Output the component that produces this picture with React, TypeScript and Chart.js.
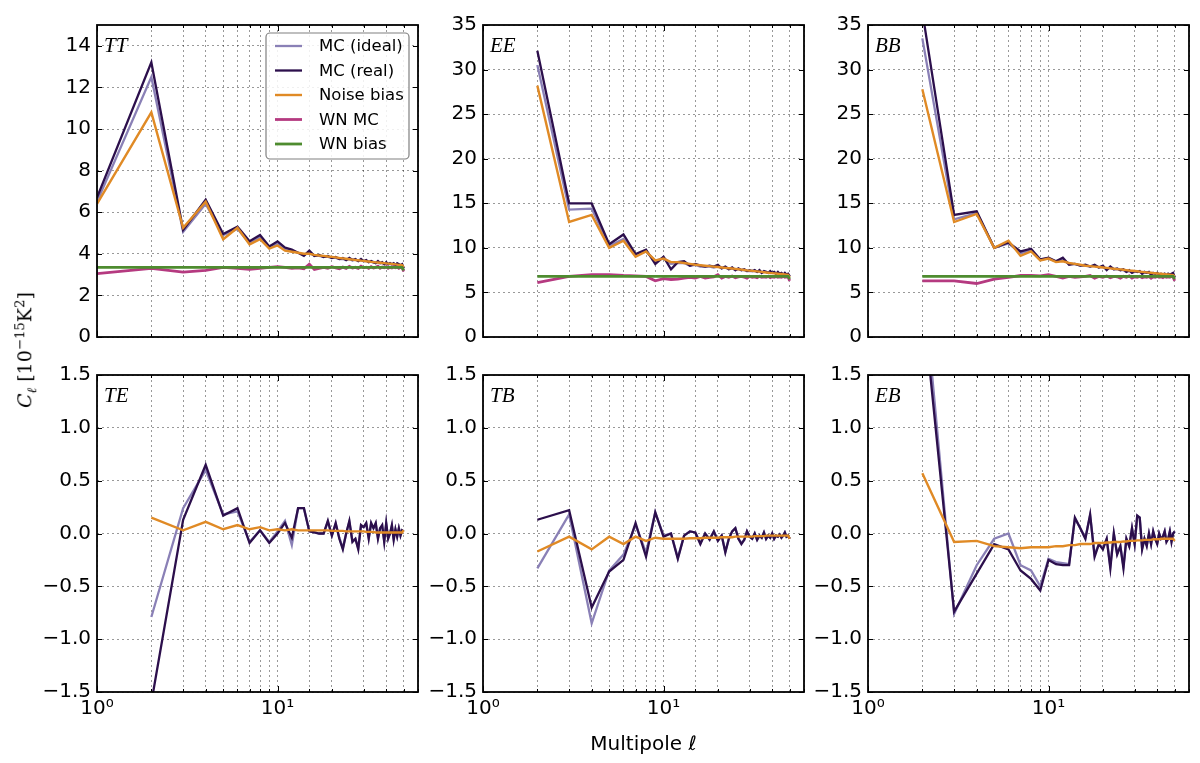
import { useEffect, useRef } from "react";
import { Chart, registerables } from "chart.js";

Chart.register(...registerables);
Chart.defaults.font.family = '"DejaVu Sans", sans-serif';
Chart.defaults.color = "#000";

// multipoles
const ells = [
  1, 2, 3, 4, 5, 6, 7, 8, 9, 10,
  11, 12, 13, 14, 15, 16, 17, 18, 19, 20,
  21, 22, 23, 24, 25, 26, 27, 28, 29, 30,
  31, 32, 33, 34, 35, 36, 37, 38, 39, 40,
  41, 42, 43, 44, 45, 46, 47, 48, 49, 50,
];

const seriesNames = ["MC (ideal)", "MC (real)", "Noise bias", "WN MC", "WN bias"];

// TT
const ttIdeal = [
  6.5, 12.5, 5.05, 6.4, 4.9, 5.2, 4.5, 4.8, 4.3, 4.5,
  4.25, 4.15, 4.05, 3.95, 4.05, 3.9, 3.9, 3.85, 3.85, 3.8,
  3.8, 3.75, 3.75, 3.72, 3.75, 3.68, 3.72, 3.65, 3.7, 3.64,
  3.66, 3.6, 3.62, 3.58, 3.56, 3.6, 3.55, 3.56, 3.5, 3.55,
  3.5, 3.52, 3.48, 3.5, 3.45, 3.5, 3.47, 3.44, 3.46, 3.3,
];
const ttReal = [
  6.7, 13.2, 5.15, 6.6, 4.95, 5.3, 4.6, 4.9, 4.35, 4.6,
  4.3, 4.2, 4.05, 3.9, 4.15, 3.9, 3.95, 3.85, 3.9, 3.8,
  3.85, 3.75, 3.8, 3.7, 3.8, 3.7, 3.75, 3.65, 3.75, 3.65,
  3.7, 3.6, 3.65, 3.6, 3.55, 3.65, 3.55, 3.6, 3.5, 3.6,
  3.5, 3.55, 3.5, 3.55, 3.45, 3.55, 3.5, 3.45, 3.5, 3.3,
];
const ttNoise = [
  6.4, 10.8, 5.25, 6.5, 4.7, 5.25, 4.45, 4.7, 4.25, 4.4,
  4.15, 4.1, 4.05, 4.0, 4.0, 3.95, 3.92, 3.9, 3.87, 3.85,
  3.83, 3.8, 3.78, 3.76, 3.74, 3.72, 3.7, 3.69, 3.67, 3.66,
  3.64, 3.63, 3.61, 3.6, 3.59, 3.58, 3.57, 3.56, 3.55, 3.54,
  3.53, 3.52, 3.51, 3.5, 3.49, 3.48, 3.47, 3.46, 3.45, 3.35,
];
const ttWnMc = [
  3.05, 3.3, 3.12, 3.2, 3.35, 3.3, 3.25, 3.3, 3.35, 3.38,
  3.35, 3.3, 3.32, 3.28, 3.5, 3.25, 3.3, 3.35, 3.3, 3.38,
  3.32, 3.28, 3.36, 3.3, 3.4, 3.32, 3.35, 3.3, 3.4, 3.33,
  3.36, 3.3, 3.38, 3.32, 3.35, 3.4, 3.3, 3.36, 3.33, 3.38,
  3.3, 3.35, 3.32, 3.38, 3.33, 3.36, 3.3, 3.35, 3.32, 3.15,
];
const ttWnBias = [
  3.35, 3.35, 3.35, 3.35, 3.35, 3.35, 3.35, 3.35, 3.35, 3.35,
  3.35, 3.35, 3.35, 3.35, 3.35, 3.35, 3.35, 3.35, 3.35, 3.35,
  3.35, 3.35, 3.35, 3.35, 3.35, 3.35, 3.35, 3.35, 3.35, 3.35,
  3.35, 3.35, 3.35, 3.35, 3.35, 3.35, 3.35, 3.35, 3.35, 3.35,
  3.35, 3.35, 3.35, 3.35, 3.35, 3.35, 3.35, 3.35, 3.35, 3.2,
];

// EE
const eeIdeal = [
  null, 30.5, 14.3, 14.4, 10.2, 11.0, 9.2, 9.6, 8.5, 8.9,
  8.2, 8.3, 8.3, 8.0, 8.1, 7.9, 7.9, 7.9, 7.8, 7.9,
  7.7, 7.8, 7.6, 7.7, 7.5, 7.6, 7.5, 7.5, 7.4, 7.4,
  7.4, 7.4, 7.3, 7.4, 7.2, 7.3, 7.3, 7.2, 7.3, 7.2,
  7.2, 7.1, 7.2, 7.1, 7.1, 7.0, 7.1, 7.0, 7.0, 6.8,
];
const eeReal = [
  null, 32.1, 15.0, 15.0, 10.4, 11.5, 9.3, 9.8, 8.2, 9.0,
  7.6, 8.4, 8.5, 8.0, 8.2, 8.0, 7.9, 8.0, 7.9, 8.1,
  7.7, 7.9, 7.6, 7.8, 7.5, 7.7, 7.5, 7.6, 7.4, 7.5,
  7.4, 7.5, 7.3, 7.5, 7.2, 7.4, 7.3, 7.2, 7.4, 7.2,
  7.3, 7.1, 7.3, 7.1, 7.2, 7.0, 7.2, 7.0, 7.1, 6.8,
];
const eeNoise = [
  null, 28.2, 12.9, 13.7, 10.0, 10.8, 9.0, 9.6, 8.6, 8.8,
  8.4, 8.4, 8.3, 8.2, 8.1, 8.05, 8.0, 7.95, 7.9, 7.85,
  7.8, 7.76, 7.72, 7.68, 7.64, 7.6, 7.56, 7.52, 7.48, 7.45,
  7.42, 7.39, 7.36, 7.33, 7.3, 7.27, 7.24, 7.21, 7.18, 7.16,
  7.14, 7.12, 7.1, 7.08, 7.06, 7.04, 7.02, 7.0, 6.98, 6.7,
];
const eeWnMc = [
  null, 6.1, 6.8, 7.0, 7.0, 6.9, 6.85, 6.8, 6.3, 6.55,
  6.45, 6.5, 6.6, 6.7, 6.6, 6.8, 6.6, 6.7, 6.75, 7.0,
  6.6, 6.8, 6.7, 6.85, 6.65, 6.75, 6.8, 6.7, 6.6, 6.8,
  6.7, 6.75, 6.65, 6.8, 6.7, 6.75, 6.7, 6.8, 6.65, 6.75,
  6.7, 6.8, 6.7, 6.75, 6.7, 6.8, 6.7, 6.75, 6.7, 6.3,
];
const eeWnBias = [
  null, 6.8, 6.8, 6.8, 6.8, 6.8, 6.8, 6.8, 6.8, 6.8,
  6.8, 6.8, 6.8, 6.8, 6.8, 6.8, 6.8, 6.8, 6.8, 6.8,
  6.8, 6.8, 6.8, 6.8, 6.8, 6.8, 6.8, 6.8, 6.8, 6.8,
  6.8, 6.8, 6.8, 6.8, 6.8, 6.8, 6.8, 6.8, 6.8, 6.8,
  6.8, 6.8, 6.8, 6.8, 6.8, 6.8, 6.8, 6.8, 6.8, 6.5,
];

// BB
const bbIdeal = [
  null, 33.5, 13.2, 13.9, 10.0, 10.5, 9.4, 9.7, 8.7, 8.8,
  8.5, 8.7, 8.2, 8.2, 8.0, 8.0, 7.9, 8.0, 7.8, 7.9,
  7.6, 7.8, 7.6, 7.6, 7.5, 7.5, 7.3, 7.4, 7.2, 7.3,
  7.3, 7.3, 7.1, 7.2, 7.2, 7.2, 7.0, 7.1, 7.1, 7.1,
  7.0, 7.0, 7.0, 7.0, 6.9, 7.0, 7.0, 7.0, 7.0, 6.7,
];
const bbReal = [
  null, 36.5, 13.7, 14.1, 10.0, 10.6, 9.6, 9.9, 8.7, 8.9,
  8.5, 8.9, 8.1, 8.2, 8.0, 8.1, 7.9, 8.1, 7.8, 8.0,
  7.5, 7.9, 7.6, 7.7, 7.5, 7.6, 7.3, 7.5, 7.2, 7.4,
  7.3, 7.4, 7.1, 7.3, 7.2, 7.3, 7.0, 7.2, 7.1, 7.2,
  7.0, 7.1, 7.0, 7.1, 6.9, 7.1, 7.0, 7.1, 7.2, 6.7,
];
const bbNoise = [
  null, 27.8, 12.9, 13.8, 10.0, 10.8, 9.1, 9.6, 8.6, 8.8,
  8.4, 8.5, 8.3, 8.2, 8.1, 8.0, 7.95, 7.9, 7.85, 7.8,
  7.75, 7.7, 7.66, 7.62, 7.58, 7.54, 7.5, 7.46, 7.43, 7.4,
  7.37, 7.34, 7.31, 7.28, 7.25, 7.22, 7.2, 7.17, 7.15, 7.13,
  7.11, 7.09, 7.07, 7.05, 7.03, 7.01, 6.99, 6.97, 6.95, 6.8,
];
const bbWnMc = [
  null, 6.3, 6.3, 6.0, 6.5, 6.7, 6.9, 6.9, 6.85, 7.0,
  6.8, 6.6, 6.8, 6.7, 6.75, 6.8, 6.9, 6.6, 6.8, 6.7,
  6.85, 6.65, 6.8, 6.75, 6.6, 6.8, 6.7, 6.85, 6.6, 6.75,
  6.7, 6.8, 6.65, 6.75, 6.7, 6.8, 6.6, 6.75, 6.7, 6.8,
  6.7, 6.75, 6.65, 6.8, 6.7, 6.75, 6.7, 6.8, 6.7, 6.3,
];
const bbWnBias = [
  null, 6.8, 6.8, 6.8, 6.8, 6.8, 6.8, 6.8, 6.8, 6.8,
  6.8, 6.8, 6.8, 6.8, 6.8, 6.8, 6.8, 6.8, 6.8, 6.8,
  6.8, 6.8, 6.8, 6.8, 6.8, 6.8, 6.8, 6.8, 6.8, 6.8,
  6.8, 6.8, 6.8, 6.8, 6.8, 6.8, 6.8, 6.8, 6.8, 6.8,
  6.8, 6.8, 6.8, 6.8, 6.8, 6.8, 6.8, 6.8, 6.8, 6.5,
];

// TE
const teIdeal = [
  null, -0.79, 0.24, 0.6, 0.18, 0.21, -0.08, 0.03, -0.08, 0.02,
  0.12, -0.11, 0.24, 0.24, 0.02, 0.01, 0.0, 0.0, 0.11, -0.02,
  0.09, -0.04, -0.14, 0.0, 0.11, -0.07, -0.05, -0.14, 0.07, 0.06,
  0.09, -0.04, 0.09, 0.05, 0.09, -0.04, 0.05, 0.07, -0.07, 0.09,
  -0.04, 0.0, 0.07, -0.05, 0.04, -0.03, 0.05, -0.02, 0.03, 0.02,
];
const teReal = [
  null, -1.6, 0.13, 0.65, 0.17, 0.24, -0.09, 0.03, -0.09, 0.0,
  0.1, -0.04, 0.24, 0.24, 0.02, 0.01, 0.0, 0.0, 0.12, -0.02,
  0.1, -0.05, -0.15, 0.0, 0.12, -0.08, -0.05, -0.15, 0.08, 0.06,
  0.1, -0.05, 0.1, 0.05, 0.1, -0.05, 0.05, 0.08, -0.08, 0.1,
  -0.05, 0.0, 0.08, -0.06, 0.04, -0.03, 0.05, -0.02, 0.03, 0.02,
];
const teNoise = [
  null, 0.15, 0.03, 0.11, 0.04, 0.08, 0.04, 0.06, 0.03, 0.04,
  0.03, 0.04, 0.03, 0.03, 0.03, 0.03, 0.03, 0.03, 0.03, 0.025,
  0.025, 0.025, 0.025, 0.02, 0.02, 0.02, 0.02, 0.02, 0.02, 0.02,
  0.015, 0.015, 0.015, 0.015, 0.01, 0.01, 0.01, 0.01, 0.01, 0.01,
  0.01, 0.01, 0.01, 0.01, 0.01, 0.01, 0.01, 0.01, 0.01, 0.03,
];

// TB
const tbIdeal = [
  null, -0.33, 0.18, -0.85, -0.35, -0.2, 0.08, -0.18, 0.2, -0.02,
  0.0, -0.23, -0.02, 0.02, 0.01, -0.09, 0.0, -0.05, 0.02, -0.06,
  -0.02, -0.17, -0.05, 0.02, 0.05, -0.05, -0.09, -0.06, 0.02, -0.03,
  -0.05, 0.0, -0.06, -0.02, -0.04, 0.01, -0.05, -0.02, -0.04, 0.0,
  -0.05, -0.02, -0.03, -0.01, -0.04, -0.02, 0.01, -0.03, -0.02, -0.05,
];
const tbReal = [
  null, 0.13, 0.22, -0.7, -0.36, -0.25, 0.1, -0.22, 0.2, -0.03,
  0.0, -0.24, -0.02, 0.02, 0.01, -0.1, 0.0, -0.06, 0.02, -0.07,
  -0.02, -0.18, -0.05, 0.02, 0.05, -0.05, -0.1, -0.06, 0.02, -0.03,
  -0.05, 0.0, -0.06, -0.02, -0.04, 0.01, -0.05, -0.02, -0.04, 0.0,
  -0.05, -0.02, -0.03, -0.01, -0.04, -0.02, 0.01, -0.03, -0.02, -0.05,
];
const tbNoise = [
  null, -0.17, -0.03, -0.15, -0.03, -0.1, -0.03, -0.07, -0.04, -0.05,
  -0.05, -0.05, -0.05, -0.045, -0.045, -0.045, -0.04, -0.04, -0.04, -0.04,
  -0.035, -0.035, -0.035, -0.035, -0.03, -0.03, -0.03, -0.03, -0.03, -0.03,
  -0.03, -0.025, -0.025, -0.025, -0.025, -0.025, -0.02, -0.02, -0.02, -0.02,
  -0.02, -0.02, -0.02, -0.02, -0.02, -0.02, -0.02, -0.02, -0.02, -0.05,
];

// EB
const ebIdeal = [
  null, 2.5, -0.76, -0.3, -0.05, 0.0, -0.3, -0.35, -0.5, -0.24,
  -0.27, -0.28, -0.29, 0.14, 0.05, -0.04, 0.17, -0.2, -0.1, -0.14,
  -0.05, -0.31, 0.0, -0.19, -0.12, -0.31, -0.05, -0.12, 0.05, -0.1,
  0.16, 0.15, -0.14, -0.05, -0.11, 0.0, -0.1, 0.02, -0.05, -0.09,
  0.0, -0.05, -0.03, 0.02, -0.07, -0.05, 0.02, -0.07, 0.0, 0.02,
];
const ebReal = [
  null, 2.25, -0.74, -0.38, -0.1, -0.15, -0.35, -0.43, -0.54, -0.25,
  -0.29, -0.3, -0.3, 0.15, 0.05, -0.05, 0.18, -0.22, -0.1, -0.15,
  -0.05, -0.33, 0.0, -0.2, -0.12, -0.33, -0.05, -0.12, 0.05, -0.1,
  0.17, 0.15, -0.15, -0.05, -0.12, 0.0, -0.1, 0.02, -0.05, -0.1,
  0.0, -0.05, -0.03, 0.02, -0.08, -0.05, 0.02, -0.08, 0.0, 0.02,
];
const ebNoise = [
  null, 0.57, -0.08, -0.07, -0.12, -0.13, -0.14, -0.13, -0.13, -0.13,
  -0.12, -0.12, -0.11, -0.11, -0.1, -0.1, -0.1, -0.09, -0.09, -0.09,
  -0.085, -0.085, -0.08, -0.08, -0.08, -0.075, -0.075, -0.07, -0.07, -0.07,
  -0.065, -0.065, -0.065, -0.06, -0.06, -0.06, -0.06, -0.055, -0.055, -0.055,
  -0.055, -0.05, -0.05, -0.05, -0.05, -0.05, -0.05, -0.05, -0.05, -0.07,
];

const seriesColors = ["#8a80b6", "#2c0f4c", "#e08a25", "#b53a80", "#4e8c2f"];
const seriesWidths = [2.3, 2.3, 2.4, 2.8, 2.8];

// layout (pixels)
const colLeft = [97, 483, 868];
const rowTop = [23, 373];
const rowHeight = [318, 319];
const PW = 321;
const AXW = 62;
const PADT = 16;
const PADR = 8;
const xAxisH = [14, 68];

type PanelDef = {
  label: string;
  col: number;
  row: number;
  min: number;
  max: number;
  step: number;
  series: (number | null)[][];
  legend?: boolean;
  xTitle?: boolean;
};

const panels: PanelDef[] = [
  { label: "TT", col: 0, row: 0, min: 0, max: 15, step: 2, series: [ttIdeal, ttReal, ttNoise, ttWnMc, ttWnBias], legend: true },
  { label: "EE", col: 1, row: 0, min: 0, max: 35, step: 5, series: [eeIdeal, eeReal, eeNoise, eeWnMc, eeWnBias] },
  { label: "BB", col: 2, row: 0, min: 0, max: 35, step: 5, series: [bbIdeal, bbReal, bbNoise, bbWnMc, bbWnBias] },
  { label: "TE", col: 0, row: 1, min: -1.5, max: 1.5, step: 0.5, series: [teIdeal, teReal, teNoise] },
  { label: "TB", col: 1, row: 1, min: -1.5, max: 1.5, step: 0.5, series: [tbIdeal, tbReal, tbNoise], xTitle: true },
  { label: "EB", col: 2, row: 1, min: -1.5, max: 1.5, step: 0.5, series: [ebIdeal, ebReal, ebNoise] },
];

const decorPlugin = {
  id: "panelDecor",
  afterDatasetsDraw(chart: any, _args: any, opts: any) {
    const { ctx, chartArea: a, scales } = chart;
    ctx.save();
    ctx.strokeStyle = "#000";
    ctx.lineWidth = 1;
    ctx.beginPath();
    scales.y.ticks.forEach((t: any) => {
      const y = Math.round(scales.y.getPixelForValue(t.value)) + 0.5;
      ctx.moveTo(a.left, y);
      ctx.lineTo(a.left + 5, y);
      ctx.moveTo(a.right, y);
      ctx.lineTo(a.right - 5, y);
    });
    scales.x.ticks.forEach((t: any) => {
      const x = Math.round(scales.x.getPixelForValue(t.value)) + 0.5;
      const len = t.value === 1 || t.value === 10 ? 6 : 3;
      ctx.moveTo(x, a.bottom);
      ctx.lineTo(x, a.bottom - len);
      ctx.moveTo(x, a.top);
      ctx.lineTo(x, a.top + len);
    });
    ctx.stroke();

    ctx.lineWidth = 1.8;
    ctx.strokeRect(a.left, a.top, a.right - a.left, a.bottom - a.top);

    ctx.fillStyle = "#000";
    ctx.font = 'italic 21px "Liberation Serif", serif';
    ctx.textBaseline = "alphabetic";
    ctx.textAlign = "left";
    ctx.fillText(opts.label, a.left + 7, a.top + 27);

    if (opts.legend) {
      const w = 143;
      const h = 126;
      const bx = a.right - 9 - w;
      const by = a.top + 8;
      ctx.beginPath();
      ctx.roundRect(bx, by, w, h, 4);
      ctx.fillStyle = "rgba(255,255,255,0.85)";
      ctx.fill();
      ctx.strokeStyle = "#808080";
      ctx.lineWidth = 1.2;
      ctx.stroke();
      chart.data.datasets.forEach((ds: any, i: number) => {
        const y = by + 13 + i * 24.5;
        ctx.beginPath();
        ctx.strokeStyle = ds.borderColor;
        ctx.lineWidth = ds.borderWidth;
        ctx.moveTo(bx + 9, y);
        ctx.lineTo(bx + 36, y);
        ctx.stroke();
        ctx.fillStyle = "#000";
        ctx.font = '16.5px "DejaVu Sans", sans-serif';
        ctx.textBaseline = "middle";
        ctx.fillText(ds.label, bx + 53, y + 1);
      });
    }
    ctx.restore();
  },
};

function fmtY(v: number, step: number) {
  const val = Math.abs(v) < 1e-9 ? 0 : v;
  const s = step < 1 ? val.toFixed(1) : String(Math.round(val));
  return s.replace("-", "\u2212");
}

function Panel({ def }: { def: PanelDef }) {
  const ref = useRef<HTMLCanvasElement | null>(null);
  const width = AXW + PW + PADR;
  const height = PADT + rowHeight[def.row] + xAxisH[def.row];
  const left = colLeft[def.col] - AXW;
  const top = rowTop[def.row] - PADT;
  const bottomRow = def.row === 1;

  useEffect(() => {
    if (!ref.current) return;
    const datasets = def.series.map((vals, i) => ({
      label: seriesNames[i],
      data: ells.map((l, j) => ({ x: l, y: vals[j] })),
      borderColor: seriesColors[i],
      backgroundColor: seriesColors[i],
      borderWidth: seriesWidths[i],
      pointRadius: 0,
      tension: 0,
      fill: false,
      order: 10 - i,
    }));

    const chart = new Chart(ref.current, {
      type: "line",
      data: { datasets },
      options: {
        animation: false,
        responsive: false,
        maintainAspectRatio: false,
        events: [],
        layout: { padding: { top: PADT, right: PADR, left: 0, bottom: 0 } },
        plugins: {
          legend: { display: false },
          tooltip: { enabled: false },
          panelDecor: { label: def.label, legend: !!def.legend },
        } as any,
        scales: {
          x: {
            type: "logarithmic",
            min: 1,
            max: 60,
            border: { display: false, dash: [2, 3] },
            grid: { color: "rgba(0,0,0,0.4)", lineWidth: 1, drawTicks: false },
            ticks: {
              display: bottomRow,
              autoSkip: false,
              maxRotation: 0,
              padding: 5,
              font: { size: 20 },
              callback: (v: any) => (v === 1 ? "10\u2070" : v === 10 ? "10\u00b9" : ""),
            },
            title: {
              display: !!def.xTitle,
              text: "Multipole \u2113",
              font: { size: 20 },
              padding: { top: 0, bottom: 3 },
            },
            afterFit: (s: any) => {
              s.height = xAxisH[def.row];
            },
          },
          y: {
            type: "linear",
            min: def.min,
            max: def.max,
            border: { display: false, dash: [2, 3] },
            grid: { color: "rgba(0,0,0,0.4)", lineWidth: 1, drawTicks: false },
            ticks: {
              stepSize: def.step,
              includeBounds: false,
              padding: 6,
              font: { size: 20 },
              callback: (v: any) => fmtY(Number(v), def.step),
            },
            afterFit: (s: any) => {
              s.width = AXW;
            },
          },
        },
      } as any,
      plugins: [decorPlugin],
    });
    return () => chart.destroy();
  }, [def]);

  return (
    <canvas
      ref={ref}
      width={width}
      height={height}
      style={{ position: "absolute", left, top, width, height }}
    />
  );
}

export default function App() {
  return (
    <div style={{ position: "absolute", left: 0, top: 0, width: 1200, height: 763, background: "#fff", overflow: "hidden" }}>
      {panels.map((p) => (
        <Panel key={p.label} def={p} />
      ))}
      <div
        style={{
          position: "absolute",
          left: 26,
          top: 350,
          transform: "translate(-50%, -50%) rotate(-90deg)",
          font: '19px "DejaVu Serif", serif',
          whiteSpace: "nowrap",
          lineHeight: 1,
        }}
      >
        <i>C</i>
        <sub style={{ fontSize: "0.7em" }}>
          <i>ℓ</i>
        </sub>{" "}
        [10<sup style={{ fontSize: "0.7em" }}>−15</sup>K<sup style={{ fontSize: "0.7em" }}>2</sup>]
      </div>
    </div>
  );
}
